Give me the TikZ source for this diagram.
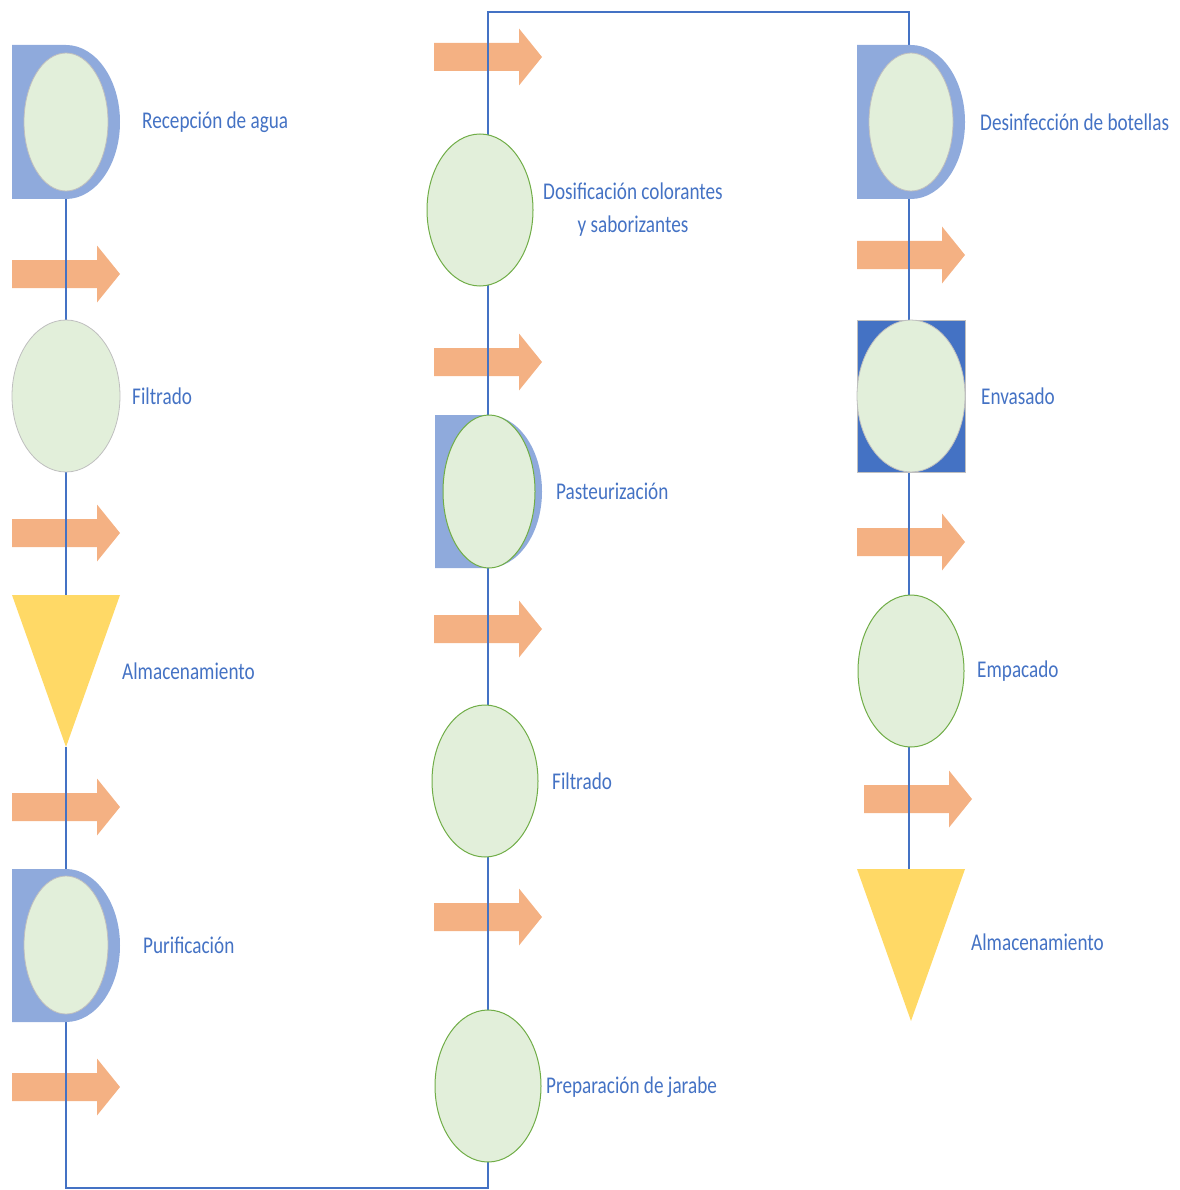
\documentclass[tikz,border=0pt]{standalone}
\usepackage{fontspec}
\setmainfont[FakeStretch=0.8]{Carlito}
\usetikzlibrary{shapes.geometric}
\pgfdeclarelayer{arrowlayer}
\pgfdeclarelayer{linelayer}
\pgfsetlayers{arrowlayer,linelayer,main}
\definecolor{dblue}{HTML}{8FAADC}
\definecolor{efill}{HTML}{E2EFDA}
\definecolor{egreen}{HTML}{70AD47}
\definecolor{egray}{HTML}{BFBFBF}
\definecolor{aorange}{HTML}{F4B183}
\definecolor{tyellow}{HTML}{FFD966}
\definecolor{lblue}{HTML}{4472C4}
\tikzset{
  farrow/.pic={\fill[aorange] (-54,-14) -- (31,-14) -- (31,-28.5) -- (54,0) -- (31,28.5) -- (31,14) -- (-54,14) -- cycle;},
  dshape/.style={fill=dblue},
  ovalg/.style={ellipse, fill=efill, draw=egray, line width=0.8pt, inner sep=0pt},
  ovalgreen/.style={ellipse, fill=efill, draw=egreen, line width=1pt, inner sep=0pt},
  lbl/.style={text=lblue, font=\fontsize{24}{30}\selectfont, anchor=west, inner sep=0pt},
  flow/.style={draw=lblue, line width=1.3pt},
  tri/.style={fill=tyellow}
}
\begin{document}
\begin{tikzpicture}[x=1pt,y=-1pt]
\useasboundingbox (0,0) rectangle (1179,1190);
% arrows
\begin{pgfonlayer}{arrowlayer}
\pic at (66,274) {farrow};
\pic at (66,533) {farrow};
\pic at (66,807) {farrow};
\pic at (66,1087) {farrow};
\pic at (488,57) {farrow};
\pic at (488,362) {farrow};
\pic at (488,629) {farrow};
\pic at (488,917) {farrow};
\pic at (911,255) {farrow};
\pic at (911,542) {farrow};
\pic at (918,799) {farrow};
\end{pgfonlayer}
% column 1
\fill[dshape] (12,45) -- (66,45) arc[start angle=90, end angle=-90, x radius=54pt, y radius=77pt] -- (12,199) -- cycle;
\coordinate (recS) at (66,199);
\node[ovalg, minimum width=84pt, minimum height=138pt] (rec) at (66,122) {};
\node[ovalg, minimum width=108pt, minimum height=152pt] (fil1) at (66,396) {};
\fill[tri] (12,595) -- (120,595) -- (66,747) -- cycle;
\coordinate (alm1N) at (66,595);
\coordinate (alm1S) at (66,747);
\fill[dshape] (12,869) -- (66,869) arc[start angle=90, end angle=-90, x radius=54pt, y radius=76.5pt] -- (12,1022) -- cycle;
\coordinate (purN) at (66,869);
\coordinate (purS) at (66,1022);
\node[ovalg, minimum width=84pt, minimum height=138pt] (pur) at (66,945) {};
% column 2
\node[ovalgreen, minimum width=106pt, minimum height=152pt] (dos) at (480,210) {};
\fill[dshape] (435,415) -- (488,415) arc[start angle=90, end angle=-90, x radius=54pt, y radius=76.5pt] -- (435,568) -- cycle;
\node[ovalgreen, minimum width=92pt, minimum height=153pt] (pas) at (489,491.5) {};
\node[ovalgreen, minimum width=106pt, minimum height=152pt] (fil2) at (485,781) {};
\node[ovalgreen, minimum width=106pt, minimum height=152pt] (pre) at (488,1086) {};
% column 3
\fill[dshape] (857,45) -- (911,45) arc[start angle=90, end angle=-90, x radius=54pt, y radius=77pt] -- (857,199) -- cycle;
\coordinate (desN) at (909,45);
\coordinate (desS) at (909,199);
\node[ovalg, minimum width=84pt, minimum height=138pt] (des) at (911,122) {};
\node[draw=egray, fill=lblue, line width=0.8pt, minimum width=108pt, minimum height=152pt, inner sep=0pt] (envbox) at (911,396) {};
\node[ovalg, minimum width=108pt, minimum height=152pt] (env) at (911,396) {};
\node[ovalgreen, minimum width=106pt, minimum height=152pt] (emp) at (911,671) {};
\fill[tri] (857,869) -- (965,869) -- (911,1021) -- cycle;
\coordinate (alm2N) at (909,869);
% corners
\coordinate (c1) at (66,1188);
\coordinate (c2) at (488,1188);
\coordinate (c3) at (488,12);
\coordinate (c4) at (909,12);
% connectors (behind the shapes, over the arrows)
\begin{pgfonlayer}{linelayer}
\draw[flow] (recS) -- (fil1.north);
\draw[flow] (fil1.south) -- (alm1N);
\draw[flow] (alm1S) -- (purN);
\draw[flow] (purS) -- (c1) -- (c2) -- (pre.center -| c2);
\draw[flow] (pre.center -| c2) -- (fil2.center -| c2);
\draw[flow] (fil2.center -| c2) -- (pas.center -| c2);
\draw[flow] (pas.center -| c2) -- (dos.center -| c2);
\draw[flow] (dos.center -| c2) -- (c3) -- (c4) -- (desN);
\draw[flow] (desS) -- (env.center -| c4);
\draw[flow] (env.center -| c4) -- (emp.center -| c4);
\draw[flow] (emp.center -| c4) -- (alm2N);
\end{pgfonlayer}
% labels
\node[lbl] (t1) at (142,122) {Recepción de agua};
\node[lbl] (t2) at (132,396) {Filtrado};
\node[lbl] (t3) at (122,671) {Almacenamiento};
\node[lbl] (t4) at (143,945) {Purificación};
\node[lbl, anchor=center, align=center, font=\fontsize{24}{33}\selectfont] (t5) at (633,210) {Dosificación colorantes\\y saborizantes};
\node[lbl] (t6) at (556,491) {Pasteurización};
\node[lbl] (t7) at (552,781) {Filtrado};
\node[lbl] (t8) at (546,1087) {Preparación de jarabe};
\node[lbl] (t9) at (980,122) {Desinfección de botellas};
\node[lbl] (t10) at (981,396) {Envasado};
\node[lbl] (t11) at (977,671) {Empacado};
\node[lbl] (t12) at (971,942) {Almacenamiento};
\end{tikzpicture}
\end{document}
